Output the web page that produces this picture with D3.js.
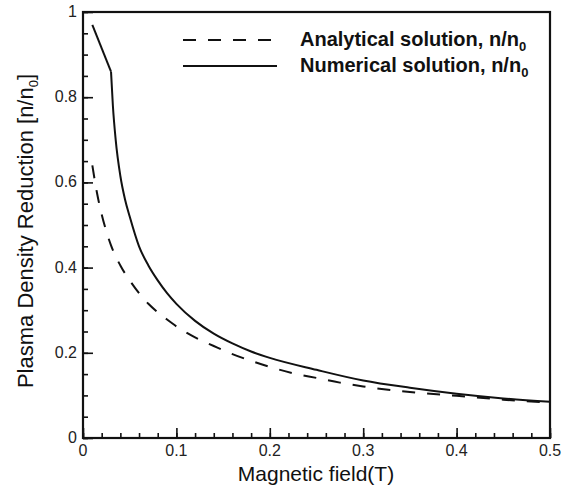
<!DOCTYPE html>
<html>
<head>
<meta charset="utf-8">
<script src="https://cdn.jsdelivr.net/npm/d3@7"></script>
<style>
    body { margin: 0; background: #fff; }
    text { font-family: "Liberation Sans", Arial, sans-serif; fill: #111; }
</style>
</head>
<body>
<div id="chart"></div>
<script>

// analytical solution (dashed)
let analyticalB = [0.01, 0.015, 0.02, 0.025, 0.03, 0.04, 0.05, 0.06, 0.07, 0.08, 0.09, 0.1,
    0.12, 0.14, 0.16, 0.18, 0.2, 0.225, 0.25, 0.275, 0.3, 0.35, 0.4, 0.45, 0.5];
let analyticalN = [0.64, 0.575, 0.525, 0.485, 0.452, 0.405, 0.37, 0.34, 0.315, 0.295, 0.278, 0.262,
    0.236, 0.216, 0.197, 0.181, 0.167, 0.152, 0.141, 0.13, 0.121, 0.108, 0.099, 0.09, 0.083];

// numerical solution (solid)
let numericalB = [0.01, 0.03, 0.032, 0.035, 0.04, 0.045, 0.05, 0.06, 0.07, 0.08, 0.09, 0.1,
    0.12, 0.14, 0.16, 0.18, 0.2, 0.25, 0.3, 0.35, 0.4, 0.45, 0.5];
let numericalN = [0.97, 0.86, 0.78, 0.70, 0.615, 0.56, 0.52, 0.45, 0.405, 0.37, 0.34, 0.315,
    0.275, 0.245, 0.222, 0.203, 0.188, 0.16, 0.135, 0.118, 0.104, 0.093, 0.085];

let xTicks = [0, 0.1, 0.2, 0.3, 0.4, 0.5];
let yTicks = [0, 0.2, 0.4, 0.6, 0.8, 1];
let legendLabels = ["Analytical solution, n/n", "Numerical solution, n/n"];

let width = 567, height = 487;
let margin = {top: 12, right: 17, bottom: 49, left: 83};

let svg = d3.select("#chart").append("svg")
    .attr("width", width)
    .attr("height", height);

let x = d3.scaleLinear().domain([0, 0.5]).range([margin.left, width - margin.right]);
let y = d3.scaleLinear().domain([0, 1]).range([height - margin.bottom, margin.top]);

// minor + major ticks, pointing inward
let xAxis = d3.axisTop(x).tickValues(xTicks).tickSize(10).tickFormat("");
let xMinor = d3.axisTop(x).tickValues(d3.range(0, 0.5001, 0.02)).tickSize(5).tickFormat("");
let yAxis = d3.axisRight(y).tickValues(yTicks).tickSize(10).tickFormat("");
let yMinor = d3.axisRight(y).tickValues(d3.range(0, 1.0001, 0.05)).tickSize(5).tickFormat("");

[xMinor, xAxis].forEach(a => {
    svg.append("g")
        .attr("transform", "translate(0," + y(0) + ")")
        .call(a)
        .call(g => g.select(".domain").remove())
        .selectAll("line").attr("stroke", "#111").attr("stroke-width", 1.6);
});
[yMinor, yAxis].forEach(a => {
    svg.append("g")
        .attr("transform", "translate(" + x(0) + ",0)")
        .call(a)
        .call(g => g.select(".domain").remove())
        .selectAll("line").attr("stroke", "#111").attr("stroke-width", 1.6);
});

// tick labels
svg.selectAll(".xlab")
    .data(xTicks)
    .enter()
    .append("text")
    .attr("class", "xlab")
    .attr("x", d => x(d))
    .attr("y", y(0) + 18)
    .attr("text-anchor", "middle")
    .style("font-size", "16px")
    .style("fill", "#222")
    .text(d => d);

svg.selectAll(".ylab")
    .data(yTicks)
    .enter()
    .append("text")
    .attr("class", "ylab")
    .attr("x", x(0) - 6)
    .attr("y", d => y(d) + 5)
    .attr("text-anchor", "end")
    .style("font-size", "16px")
    .style("fill", "#222")
    .text(d => d);

// frame
svg.append("rect")
    .attr("x", x(0))
    .attr("y", y(1))
    .attr("width", x(0.5) - x(0))
    .attr("height", y(0) - y(1))
    .attr("fill", "none")
    .attr("stroke", "#111")
    .attr("stroke-width", 2.2);

// curves
let smooth = d3.line()
    .x(d => x(d[0]))
    .y(d => y(d[1]))
    .curve(d3.curveMonotoneX);

svg.append("path")
    .datum(d3.zip(analyticalB, analyticalN))
    .attr("d", smooth)
    .attr("fill", "none")
    .attr("stroke", "#111")
    .attr("stroke-width", 2)
    .attr("stroke-dasharray", "13,12");

// first segment straight, kink at 0.03, then smooth
let num = d3.zip(numericalB, numericalN);
let straight = d3.line().x(d => x(d[0])).y(d => y(d[1]));

svg.append("path")
    .datum(num.slice(0, 2))
    .attr("d", straight)
    .attr("fill", "none")
    .attr("stroke", "#111")
    .attr("stroke-width", 2);

svg.append("path")
    .datum(num.slice(1))
    .attr("d", smooth)
    .attr("fill", "none")
    .attr("stroke", "#111")
    .attr("stroke-width", 2);

// legend
let legend = svg.append("g");
legendLabels.forEach((lab, i) => {
    let ly = 40 + i * 26;
    legend.append("line")
        .attr("x1", 183).attr("x2", 277)
        .attr("y1", ly).attr("y2", ly)
        .attr("stroke", "#111")
        .attr("stroke-width", 2.2)
        .attr("stroke-dasharray", i === 0 ? "13,12" : null);
    let t = legend.append("text")
        .attr("x", 300)
        .attr("y", ly + 6)
        .style("font-size", "20px")
        .style("font-weight", "bold")
        .text(lab);
    t.append("tspan")
        .attr("dy", 5)
        .style("font-size", "13px")
        .text("0");
});

// axis titles
svg.append("text")
    .attr("x", 316)
    .attr("y", 481)
    .attr("text-anchor", "middle")
    .style("font-size", "21px")
    .text("Magnetic field(T)");

let yt = svg.append("text")
    .attr("transform", "translate(33,231) rotate(-90)")
    .attr("text-anchor", "middle")
    .style("font-size", "22px")
    .text("Plasma Density Reduction [n/n");
yt.append("tspan").attr("dy", 5).style("font-size", "13px").text("0");
yt.append("tspan").attr("dy", -5).text("]");

</script>
</body>
</html>
